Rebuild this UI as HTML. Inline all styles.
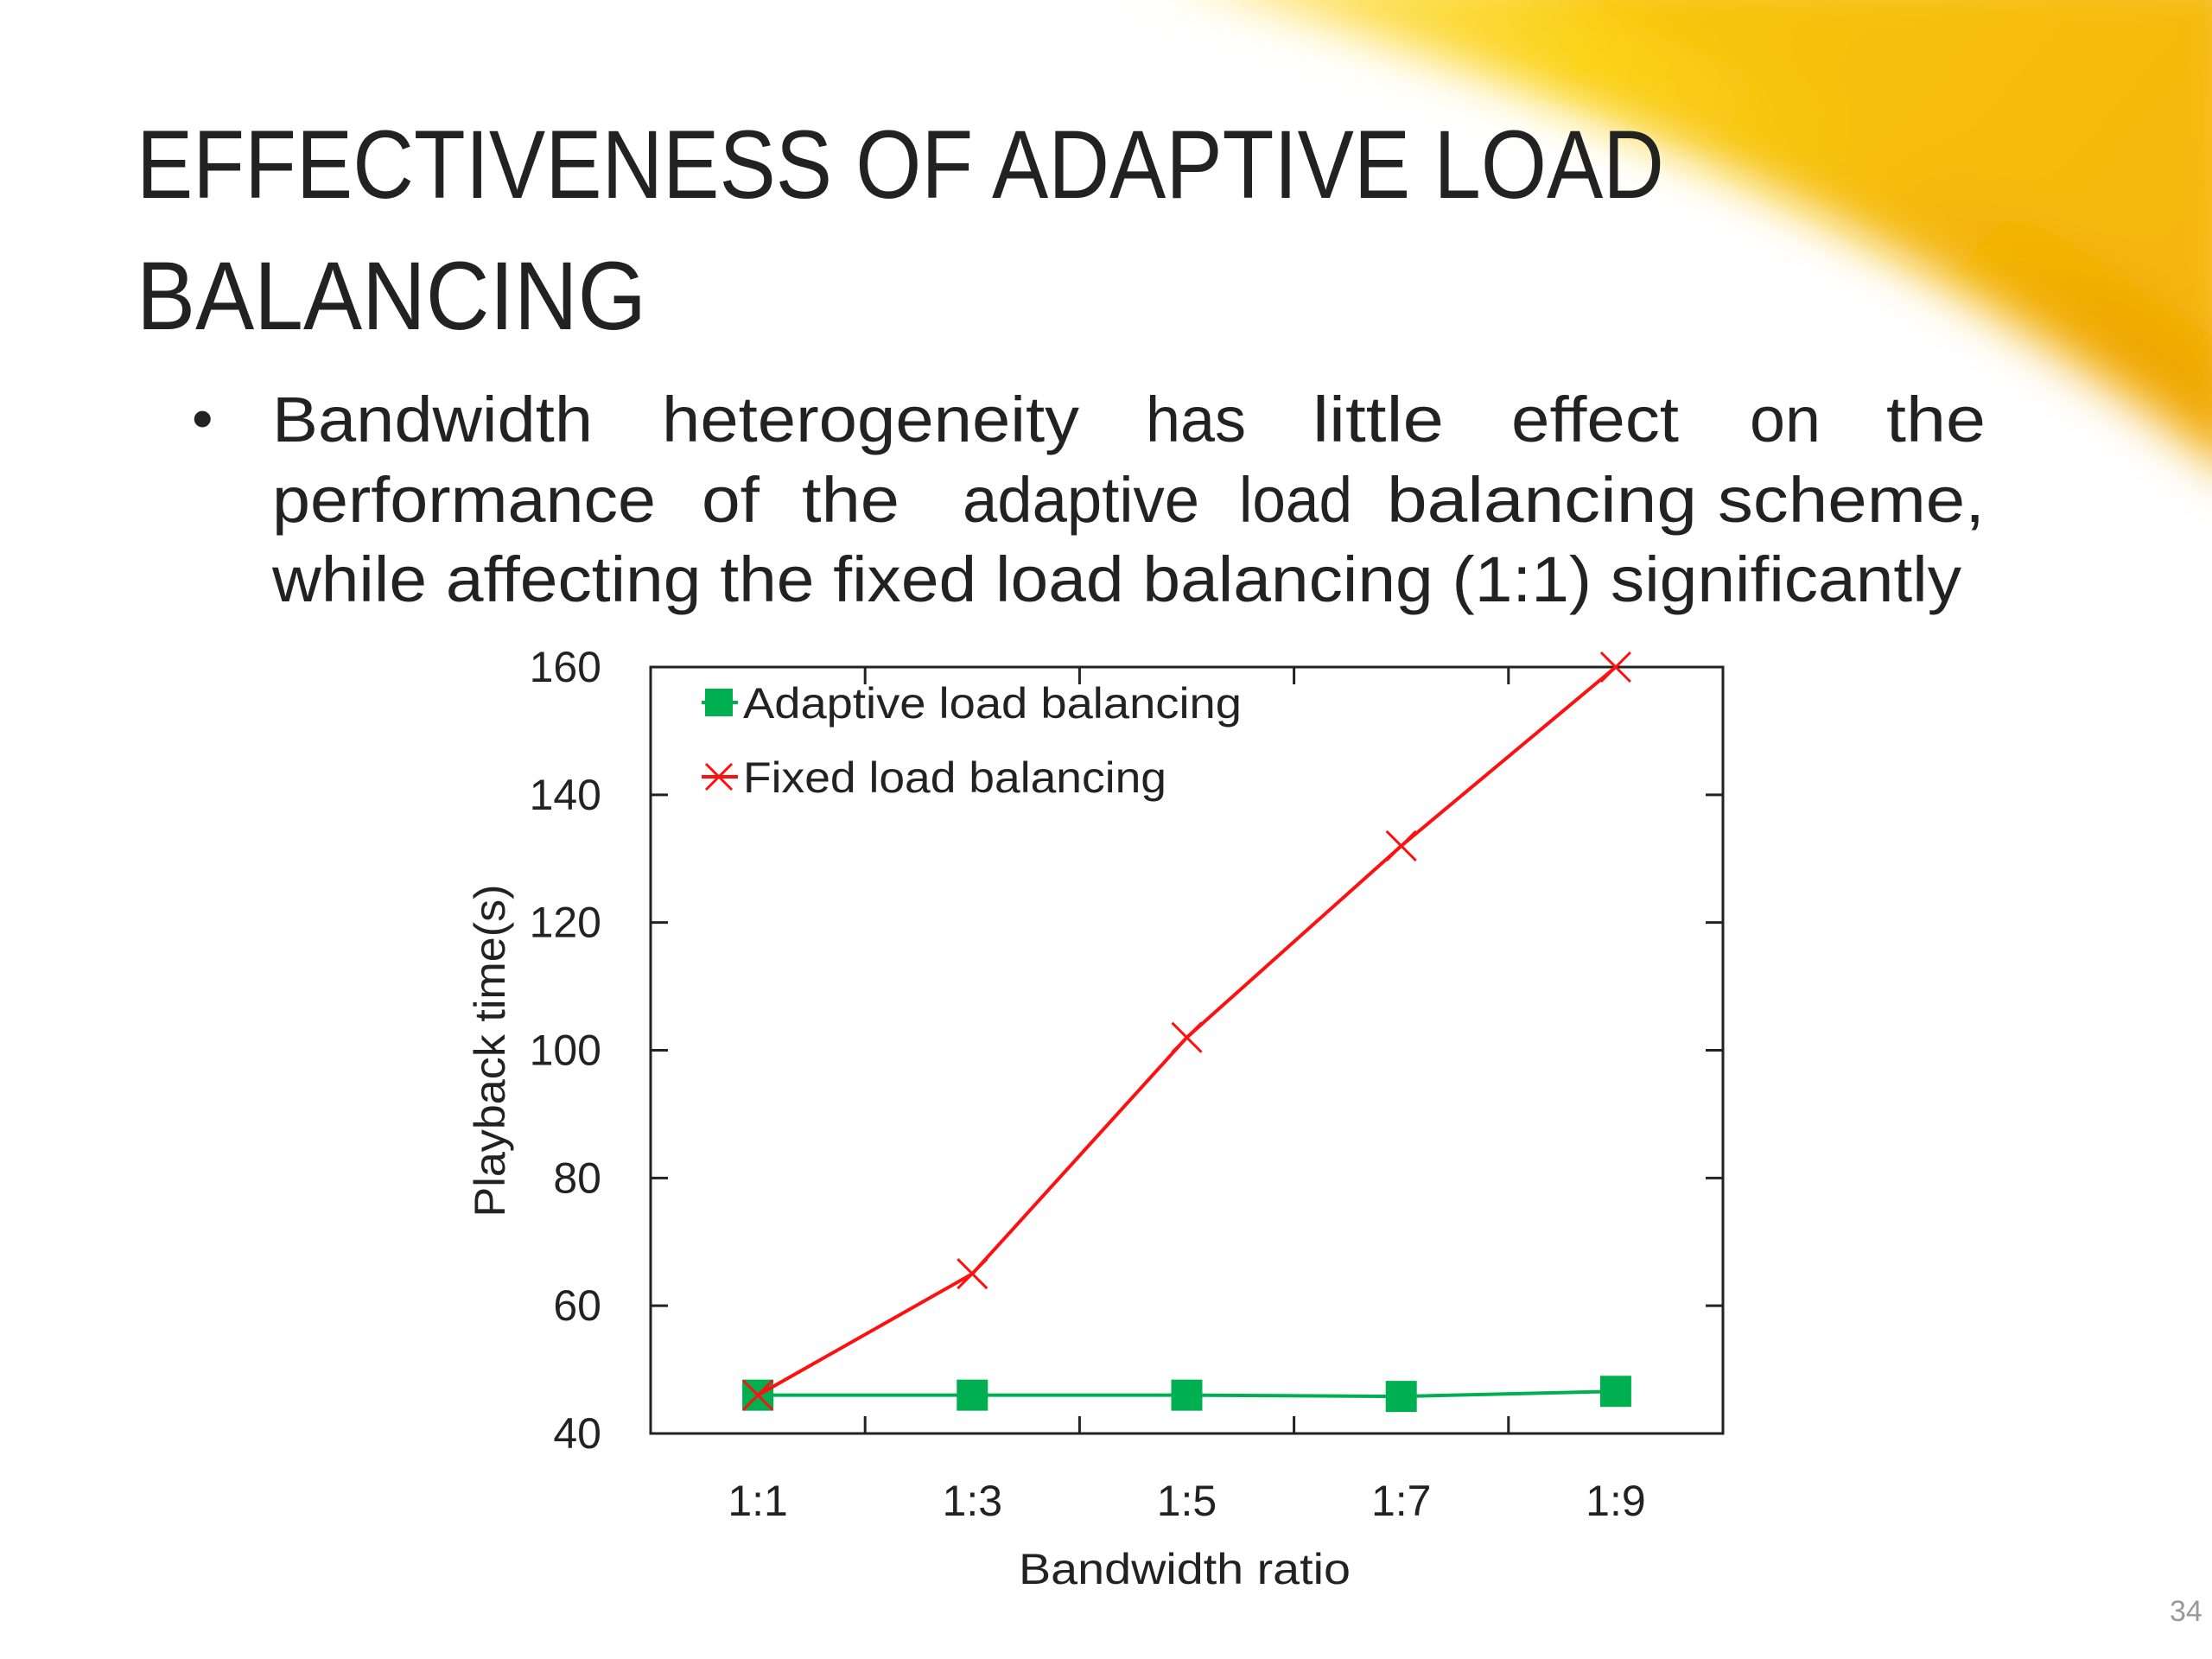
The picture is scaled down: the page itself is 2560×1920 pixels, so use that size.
<!DOCTYPE html>
<html><head><meta charset="utf-8"><style>
html,body{margin:0;padding:0;background:#fff;}
svg{display:block;}
text{font-family:"Liberation Sans",sans-serif;fill:#222;}
</style></head><body>
<svg width="2560" height="1920" viewBox="0 0 2560 1920">
<defs>
<linearGradient id="sun" x1="0" y1="0" x2="1" y2="0.4">
<stop offset="0" stop-color="#ffe680"/><stop offset="0.4" stop-color="#fbd318"/><stop offset="1" stop-color="#f0a800"/>
</linearGradient>
<filter id="blur"><feGaussianBlur stdDeviation="28"/></filter>
</defs>
<g filter="url(#blur)">
<path d="M1330,-40 C1700,80 2100,180 2600,560 L2600,-40 Z" fill="url(#sun)"/>
<path d="M1700,-40 C2000,60 2300,200 2600,420 L2600,-40 Z" fill="#f6be0a" opacity="0.7"/>
</g>
<g>
<text x="158" y="229" font-size="112" textLength="1768" lengthAdjust="spacingAndGlyphs">EFFECTIVENESS OF ADAPTIVE LOAD</text>
<text x="158" y="381" font-size="112" textLength="590" lengthAdjust="spacingAndGlyphs">BALANCING</text>
</g>
<g font-size="74">
<text x="222" y="508" font-size="70">•</text>
<text y="511" lengthAdjust="spacingAndGlyphs"><tspan x="315" textLength="371" lengthAdjust="spacingAndGlyphs">Bandwidth</tspan><tspan x="766" textLength="483" lengthAdjust="spacingAndGlyphs">heterogeneity</tspan><tspan x="1326" textLength="116" lengthAdjust="spacingAndGlyphs">has</tspan><tspan x="1519" textLength="152" lengthAdjust="spacingAndGlyphs">little</tspan><tspan x="1749" textLength="194" lengthAdjust="spacingAndGlyphs">effect</tspan><tspan x="2025" textLength="82" lengthAdjust="spacingAndGlyphs">on</tspan><tspan x="2183" textLength="115" lengthAdjust="spacingAndGlyphs">the</tspan></text>
<text y="604"><tspan x="315" textLength="444" lengthAdjust="spacingAndGlyphs">performance</tspan><tspan x="812" textLength="67" lengthAdjust="spacingAndGlyphs">of</tspan><tspan x="928" textLength="113" lengthAdjust="spacingAndGlyphs">the</tspan><tspan x="1114" textLength="274" lengthAdjust="spacingAndGlyphs">adaptive</tspan><tspan x="1434" textLength="131" lengthAdjust="spacingAndGlyphs">load</tspan><tspan x="1605" textLength="359" lengthAdjust="spacingAndGlyphs">balancing</tspan><tspan x="1988" textLength="309" lengthAdjust="spacingAndGlyphs">scheme,</tspan></text>
<text x="315" y="696" textLength="1955" lengthAdjust="spacingAndGlyphs">while affecting the fixed load balancing (1:1) significantly</text>
</g>
<text x="2511" y="1876" font-size="34" fill="#999" style="fill:#999">34</text>
<g id="chart"></g>
</svg>
<script>
const categories=["1:1","1:3","1:5","1:7","1:9"];
const adaptiveValues=[46,46,46,45.8,46.6];
const fixedValues=[46,65,102,132,160];
const yTicks=[40,60,80,100,120,140,160];
const NS="http://www.w3.org/2000/svg";
const L=753,R=1994,T=772,B=1659;
const yMin=40,yMax=160;
const band=(R-L)/categories.length;
function xs(i){return L+band*(i+0.5);}
function ys(v){return B-(v-yMin)/(yMax-yMin)*(B-T);}
const g=document.getElementById('chart');
function mk(tag,attrs,parent){const e=document.createElementNS(NS,tag);for(const k in attrs)e.setAttribute(k,attrs[k]);(parent||g).appendChild(e);return e;}
let e;
e=mk('rect',{x:L,y:T,width:R-L,height:B-T,fill:'none',stroke:'#222','stroke-width':3});


yTicks.forEach(v=>{
  const y=ys(v);
  mk('line',{x1:L,y1:y,x2:L+20,y2:y,stroke:'#222','stroke-width':3});
  mk('line',{x1:R-20,y1:y,x2:R,y2:y,stroke:'#222','stroke-width':3});
  const t=mk('text',{x:696,y:y+17,'font-size':50,'text-anchor':'end'});
  t.textContent=v;
  
  
});
for(let i=1;i<categories.length;i++){
  const x=L+band*i;
  mk('line',{x1:x,y1:B,x2:x,y2:B-20,stroke:'#222','stroke-width':3});
  mk('line',{x1:x,y1:T,x2:x,y2:T+20,stroke:'#222','stroke-width':3});
}
categories.forEach((c,i)=>{
  const t=mk('text',{x:xs(i),y:1754,'font-size':50,'text-anchor':'middle'});
  t.textContent=c;
  
  
});
e=mk('text',{x:1179,y:1833,'font-size':50,textLength:384,lengthAdjust:'spacingAndGlyphs'});
e.textContent='Bandwidth  ratio';


e=mk('text',{x:0,y:0,'font-size':50,'text-anchor':'middle',textLength:385,lengthAdjust:'spacingAndGlyphs',transform:'translate(584,1216) rotate(-90)'});
e.textContent='Playback time(s)';


e=mk('polyline',{points:adaptiveValues.map((v,i)=>xs(i)+','+ys(v)).join(' '),fill:'none',stroke:'#00b050','stroke-width':4});


adaptiveValues.forEach((v,i)=>{
  const r=mk('rect',{x:xs(i)-18,y:ys(v)-18,width:36,height:36,fill:'#00b050'});
  
  
});
e=mk('polyline',{points:fixedValues.map((v,i)=>xs(i)+','+ys(v)).join(' '),fill:'none',stroke:'#ff1010','stroke-width':4});


fixedValues.forEach((v,i)=>{
  const x=xs(i),y=ys(v),s=17;
  const p=mk('path',{d:`M${x-s},${y-s}L${x+s},${y+s}M${x-s},${y+s}L${x+s},${y-s}`,stroke:'#ff1010','stroke-width':3,fill:'none'});
  
  
});
const lg=mk('g',{});


mk('line',{x1:812,y1:813,x2:854,y2:813,stroke:'#00b050','stroke-width':4},lg);
mk('rect',{x:816,y:797,width:32,height:32,fill:'#00b050'},lg);
e=mk('text',{x:860,y:831,'font-size':50,textLength:577,lengthAdjust:'spacingAndGlyphs'},lg);
e.textContent='Adaptive load balancing';


mk('line',{x1:812,y1:899,x2:854,y2:899,stroke:'#ff1010','stroke-width':4},lg);
mk('path',{d:'M817,884L847,914M817,914L847,884',stroke:'#ff1010','stroke-width':3},lg);
e=mk('text',{x:860,y:917,'font-size':50,textLength:490,lengthAdjust:'spacingAndGlyphs'},lg);
e.textContent='Fixed load balancing';


</script>
</body></html>
